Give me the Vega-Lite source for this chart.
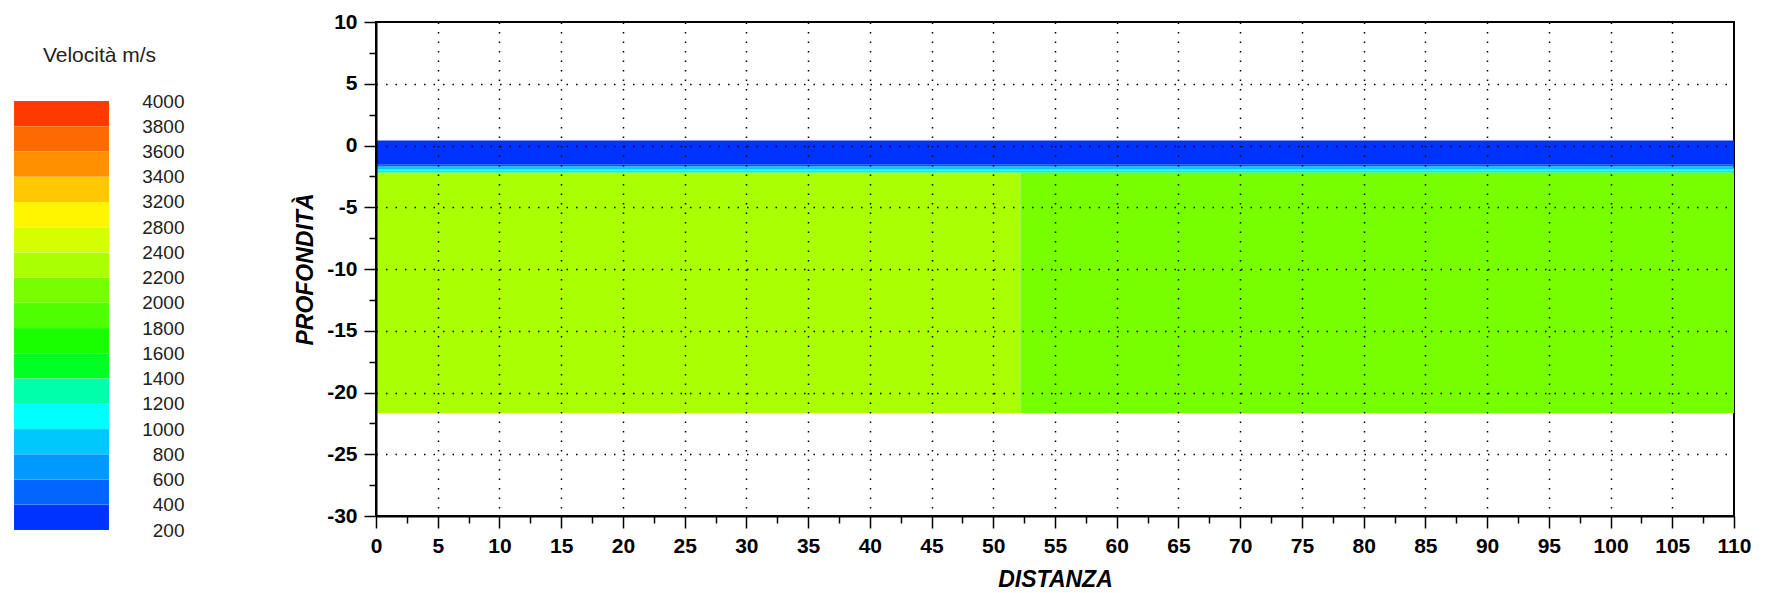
{
  "$schema": "https://vega.github.io/schema/vega-lite/v6.json",
  "padding": {"left": 13, "top": 10, "right": 5, "bottom": 5},
  "background": "white",
  "bounds": "flush",
  "spacing": 267,
  "datasets": {
    "layers": [
      {"x0": 0, "x1": 110, "y0": 0.4, "y1": -1.55, "v": 300},
      {"x0": 0, "x1": 110, "y0": -1.55, "y1": -1.7, "v": 500},
      {"x0": 0, "x1": 110, "y0": -1.7, "y1": -1.8, "v": 700},
      {"x0": 0, "x1": 110, "y0": -1.8, "y1": -1.9, "v": 900},
      {"x0": 0, "x1": 110, "y0": -1.9, "y1": -2.05, "v": 1100},
      {"x0": 0, "x1": 110, "y0": -2.05, "y1": -2.2, "v": 1300},
      {"x0": 0, "x1": 52.2, "y0": -2.2, "y1": -21.65, "v": 2300},
      {"x0": 52.2, "x1": 110, "y0": -2.2, "y1": -21.65, "v": 2100}
    ],
    "bands": [
      {"lo": 200, "hi": 400, "v": 300},
      {"lo": 400, "hi": 600, "v": 500},
      {"lo": 600, "hi": 800, "v": 700},
      {"lo": 800, "hi": 1000, "v": 900},
      {"lo": 1000, "hi": 1200, "v": 1100},
      {"lo": 1200, "hi": 1400, "v": 1300},
      {"lo": 1400, "hi": 1600, "v": 1500},
      {"lo": 1600, "hi": 1800, "v": 1700},
      {"lo": 1800, "hi": 2000, "v": 1900},
      {"lo": 2000, "hi": 2200, "v": 2100},
      {"lo": 2200, "hi": 2400, "v": 2300},
      {"lo": 2400, "hi": 2800, "v": 2600},
      {"lo": 2800, "hi": 3200, "v": 3000},
      {"lo": 3200, "hi": 3400, "v": 3300},
      {"lo": 3400, "hi": 3600, "v": 3500},
      {"lo": 3600, "hi": 3800, "v": 3700},
      {"lo": 3800, "hi": 4000, "v": 3900}
    ]
  },
  "config": {
    "font": "Liberation Sans",
    "axis": {
      "labelFont": "Liberation Sans",
      "labelFontWeight": "bold",
      "labelFontSize": 21,
      "labelColor": "black",
      "titleFont": "Liberation Sans",
      "titleFontWeight": "bold",
      "titleFontStyle": "italic",
      "titleFontSize": 23,
      "titleColor": "black",
      "domainColor": "black",
      "domainWidth": 2,
      "tickColor": "black",
      "tickWidth": 1.5
    }
  },
  "hconcat": [
    {
      "width": 95,
      "height": 520,
      "view": {"stroke": null},
      "title": {
        "text": "Velocità m/s",
        "font": "Liberation Sans",
        "fontSize": 21,
        "fontWeight": "normal",
        "color": "#222",
        "anchor": "middle",
        "offset": -44,
        "dx": 38
      },
      "data": {"name": "bands"},
      "mark": {"type": "rect", "stroke": "#ffffff", "strokeOpacity": 0.15, "strokeWidth": 0.5},
      "encoding": {
        "y": {
          "field": "lo",
          "type": "quantitative",
          "scale": {"domain": [200, 2400, 2800, 3200, 4000], "range": [508, 230.4, 205.2, 179.9, 79], "zero": false, "nice": false},
          "axis": {
            "orient": "right",
            "title": null,
            "values": [200, 400, 600, 800, 1000, 1200, 1400, 1600, 1800, 2000, 2200, 2400, 2800, 3200, 3400, 3600, 3800, 4000],
            "format": "d",
            "domain": false,
            "ticks": false,
            "tickSize": 0,
            "grid": false,
            "labelAlign": "right",
            "labelPadding": 75,
            "labelFontWeight": "normal",
            "labelFontSize": 19,
            "labelColor": "#222",
            "labelOverlap": false
          }
        },
        "y2": {"field": "hi"},
        "color": {
          "field": "v",
          "type": "quantitative",
          "legend": null,
          "scale": {
            "type": "threshold",
            "domain": [400, 600, 800, 1000, 1200, 1400, 1600, 1800, 2000, 2200, 2400, 2800, 3200, 3400, 3600, 3800],
            "range": ["#0033FF", "#0066FF", "#0099FF", "#00C8FF", "#00FFFF", "#00FFAA", "#00FF22", "#1AFF00", "#4DFF00", "#77FF00", "#AAFF00", "#D4FF00", "#FFF500", "#FFC800", "#FF9100", "#FF6A00", "#FF3A00"]
          }
        }
      }
    },
    {
      "width": 1358,
      "height": 494,
      "view": {"stroke": "black", "strokeWidth": 2},
      "data": {"name": "layers"},
      "mark": {"type": "rect"},
      "encoding": {
        "x": {
          "field": "x0",
          "type": "quantitative",
          "title": "DISTANZA",
          "scale": {"domain": [0, 110], "nice": false, "zero": false},
          "axis": {
            "values": [0, 2.5, 5, 7.5, 10, 12.5, 15, 17.5, 20, 22.5, 25, 27.5, 30, 32.5, 35, 37.5, 40, 42.5, 45, 47.5, 50, 52.5, 55, 57.5, 60, 62.5, 65, 67.5, 70, 72.5, 75, 77.5, 80, 82.5, 85, 87.5, 90, 92.5, 95, 97.5, 100, 102.5, 105, 107.5, 110],
            "labelExpr": "datum.value % 5 === 0 ? '' + datum.value : ''",
            "labelOverlap": false,
            "labelFlush": false,
            "labelPadding": 7,
            "tickSize": {"condition": {"test": "datum.value % 5 === 0", "value": 12}, "value": 7},
            "grid": true,
            "gridColor": "black",
            "gridWidth": 1.5,
            "gridDash": [1.5, 8],
            "gridOpacity": {"condition": {"test": "datum.value % 5 !== 0 || datum.value === 0 || datum.value === 110", "value": 0}, "value": 1},
            "titlePadding": 12,
            "zindex": 1
          }
        },
        "x2": {"field": "x1"},
        "y": {
          "field": "y0",
          "type": "quantitative",
          "title": "PROFONDITÀ",
          "scale": {"domain": [-30, 10], "nice": false, "zero": false},
          "axis": {
            "values": [-30, -27.5, -25, -22.5, -20, -17.5, -15, -12.5, -10, -7.5, -5, -2.5, 0, 2.5, 5, 7.5, 10],
            "labelExpr": "datum.value % 5 === 0 ? '' + datum.value : ''",
            "labelOverlap": false,
            "labelFlush": false,
            "labelPadding": 7,
            "tickSize": {"condition": {"test": "datum.value % 5 === 0", "value": 12}, "value": 7},
            "grid": true,
            "gridColor": "black",
            "gridWidth": 1.5,
            "gridDash": [1.5, 8],
            "gridOpacity": {"condition": {"test": "datum.value % 5 !== 0 || datum.value === 10 || datum.value === -30", "value": 0}, "value": 1},
            "titlePadding": 9,
            "zindex": 1
          }
        },
        "y2": {"field": "y1"},
        "color": {
          "field": "v",
          "type": "quantitative",
          "legend": null,
          "scale": {
            "type": "threshold",
            "domain": [400, 600, 800, 1000, 1200, 1400, 1600, 1800, 2000, 2200, 2400, 2800, 3200, 3400, 3600, 3800],
            "range": ["#0033FF", "#0066FF", "#0099FF", "#00C8FF", "#00FFFF", "#00FFAA", "#00FF22", "#1AFF00", "#4DFF00", "#77FF00", "#AAFF00", "#D4FF00", "#FFF500", "#FFC800", "#FF9100", "#FF6A00", "#FF3A00"]
          }
        }
      }
    }
  ]
}
